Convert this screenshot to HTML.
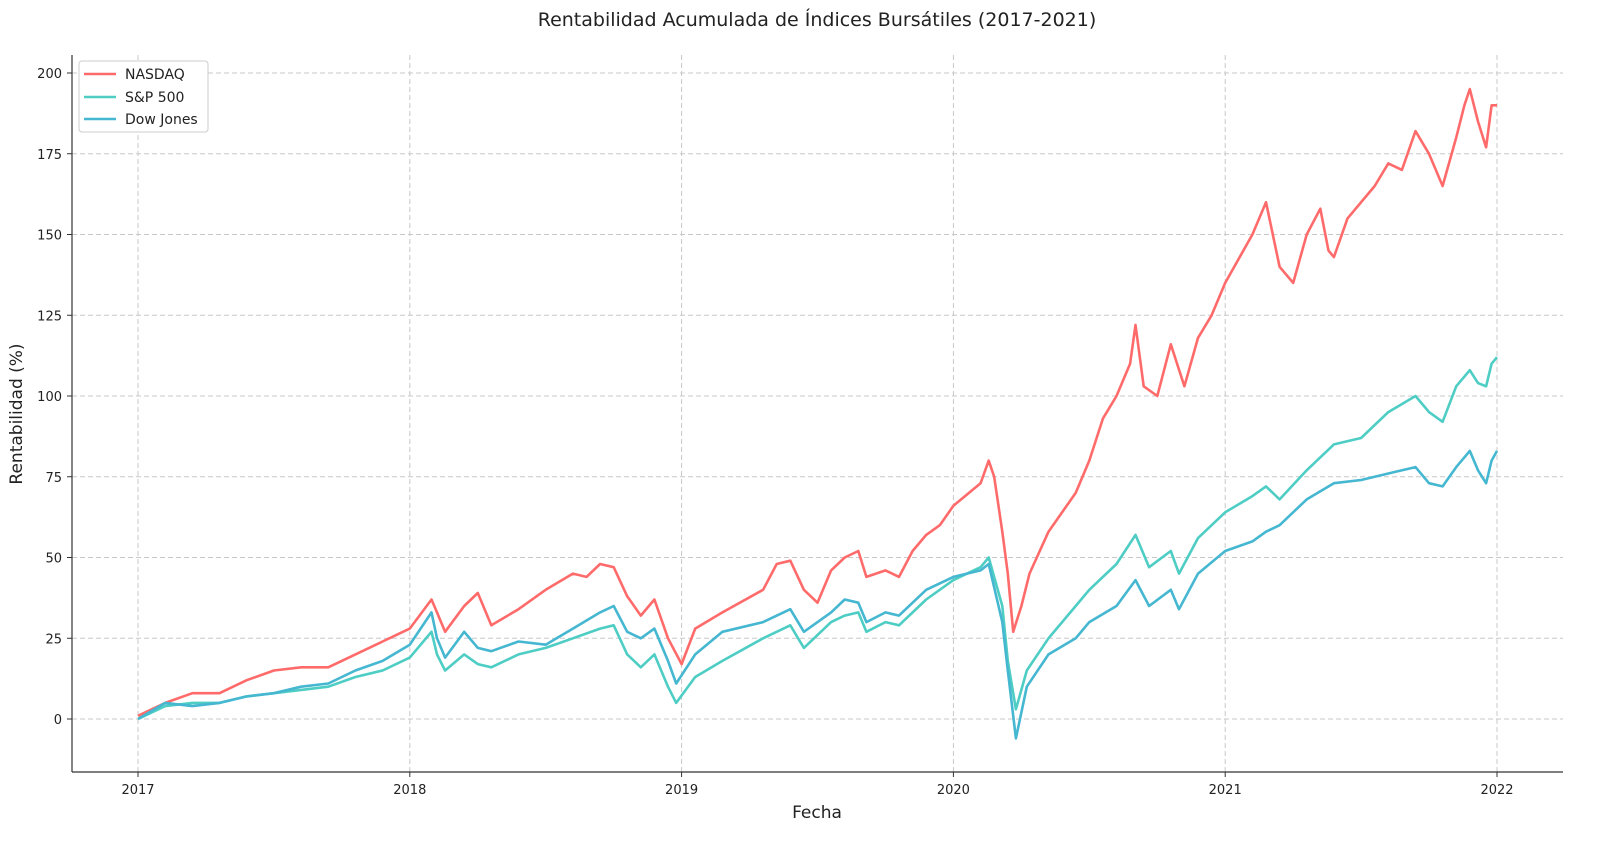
<!DOCTYPE html>
<html><head><meta charset="utf-8"><style>
body{margin:0;background:#fff;font-family:"Liberation Sans","DejaVu Sans",sans-serif;}
svg text{font-family:"DejaVu Sans","Liberation Sans",sans-serif;}
</style></head><body>
<svg id="chart" width="1600" height="844" xmlns="http://www.w3.org/2000/svg">
<text x="817" y="26" text-anchor="middle" font-size="19" fill="#222">Rentabilidad Acumulada de Índices Bursátiles (2017-2021)</text>
<g id="grid"></g>
<g id="axes"></g>
<g id="series"></g>
<text x="817" y="818" text-anchor="middle" font-size="17" fill="#222">Fecha</text>
<text transform="translate(22,414) rotate(-90)" text-anchor="middle" font-size="17" fill="#222">Rentabilidad (%)</text>
<g>
<rect x="79" y="61" width="129" height="71" rx="3" fill="#fff" stroke="#ccc"/>
<g><line x1="84" y1="74" x2="116" y2="74" stroke="#ff6b6b" stroke-width="2.5"/><text x="125" y="79" font-size="14" fill="#222">NASDAQ</text></g>
<g><line x1="84" y1="97" x2="116" y2="97" stroke="#4ecdc4" stroke-width="2.5"/><text x="125" y="102" font-size="14" fill="#222">S&amp;P 500</text></g>
<g><line x1="84" y1="119" x2="116" y2="119" stroke="#45b7d1" stroke-width="2.5"/><text x="125" y="124" font-size="14" fill="#222">Dow Jones</text></g>
</g>
</svg>
<script>
const yTicks=[0,25,50,75,100,125,150,175,200];
const xTicks=[2017,2018,2019,2020,2021,2022];
const nasdaqDates=[2017.0,2017.1,2017.2,2017.3,2017.4,2017.5,2017.6,2017.7,2017.8,2017.9,2018.0,2018.08,2018.1,2018.13,2018.2,2018.25,2018.3,2018.4,2018.5,2018.6,2018.65,2018.7,2018.75,2018.8,2018.85,2018.9,2018.95,2019.0,2019.05,2019.15,2019.3,2019.35,2019.4,2019.45,2019.5,2019.55,2019.6,2019.65,2019.68,2019.75,2019.8,2019.85,2019.9,2019.95,2020.0,2020.1,2020.13,2020.15,2020.18,2020.2,2020.22,2020.25,2020.28,2020.35,2020.45,2020.5,2020.55,2020.6,2020.65,2020.67,2020.7,2020.75,2020.8,2020.85,2020.9,2020.95,2021.0,2021.1,2021.15,2021.2,2021.25,2021.3,2021.35,2021.38,2021.4,2021.45,2021.55,2021.6,2021.65,2021.7,2021.75,2021.8,2021.85,2021.88,2021.9,2021.93,2021.96,2021.98,2022.0];
const nasdaqValues=[1,5,8,8,12,15,16,16,20,24,28,37,33,27,35,39,29,34,40,45,44,48,47,38,32,37,25,17,28,33,40,48,49,40,36,46,50,52,44,46,44,52,57,60,66,73,80,75,58,45,27,35,45,58,70,80,93,100,110,122,103,100,116,103,118,125,135,150,160,140,135,150,158,145,143,155,165,172,170,182,175,165,180,190,195,185,177,190,190];
const otherDates=[2017.0,2017.1,2017.2,2017.3,2017.4,2017.5,2017.6,2017.7,2017.8,2017.9,2018.0,2018.08,2018.1,2018.13,2018.2,2018.25,2018.3,2018.4,2018.5,2018.6,2018.7,2018.75,2018.8,2018.85,2018.9,2018.95,2018.98,2019.05,2019.15,2019.3,2019.4,2019.45,2019.55,2019.6,2019.65,2019.68,2019.75,2019.8,2019.9,2020.0,2020.1,2020.13,2020.18,2020.2,2020.23,2020.27,2020.35,2020.45,2020.5,2020.6,2020.67,2020.72,2020.8,2020.83,2020.9,2021.0,2021.1,2021.15,2021.2,2021.3,2021.4,2021.5,2021.6,2021.7,2021.75,2021.8,2021.85,2021.9,2021.93,2021.96,2021.98,2022.0];
const spValues=[0,4,5,5,7,8,9,10,13,15,19,27,20,15,20,17,16,20,22,25,28,29,20,16,20,10,5,13,18,25,29,22,30,32,33,27,30,29,37,43,47,50,35,18,3,15,25,35,40,48,57,47,52,45,56,64,69,72,68,77,85,87,95,100,95,92,103,108,104,103,110,112];
const dowValues=[0,5,4,5,7,8,10,11,15,18,23,33,25,19,27,22,21,24,23,28,33,35,27,25,28,18,11,20,27,30,34,27,33,37,36,30,33,32,40,44,46,48,30,15,-6,10,20,25,30,35,43,35,40,34,45,52,55,58,60,68,73,74,76,78,73,72,78,83,77,73,80,83];
const X=v=>138+(v-2017)*271.8;
const Y=v=>719-v*3.23;
const NS="http://www.w3.org/2000/svg";
function mk(tag,attrs,parent){const e=document.createElementNS(NS,tag);for(const k in attrs)e.setAttribute(k,attrs[k]);parent.appendChild(e);return e;}
const grid=document.getElementById('grid'),axes=document.getElementById('axes'),ser=document.getElementById('series');
yTicks.forEach(t=>{
 const l=mk('line',{x1:72,x2:1563,y1:Y(t),y2:Y(t),stroke:'#c8c8c8','stroke-dasharray':'5,3'},grid);
 
 
 const tk=mk('line',{x1:67,x2:72,y1:Y(t),y2:Y(t),stroke:'#333'},axes);
 const tx=mk('text',{x:62,y:Y(t)+5,'text-anchor':'end','font-size':13,fill:'#222'},axes);
 tx.textContent=t;
 
 
});
xTicks.forEach(t=>{
 const l=mk('line',{x1:X(t),x2:X(t),y1:55,y2:772,stroke:'#c8c8c8','stroke-dasharray':'5,3'},grid);
 
 
 mk('line',{x1:X(t),x2:X(t),y1:772,y2:777,stroke:'#333'},axes);
 const tx=mk('text',{x:X(t),y:794,'text-anchor':'middle','font-size':13,fill:'#222'},axes);
 tx.textContent=t;
 
 
});
mk('line',{x1:72,x2:72,y1:55,y2:772,stroke:'#333','stroke-width':1.2},axes);
mk('line',{x1:72,x2:1563,y1:772,y2:772,stroke:'#333','stroke-width':1.2},axes);
function draw(dates,vals,color,name){
 const d=dates.map((t,i)=>(i?'L':'M')+X(t).toFixed(1)+','+Y(vals[i]).toFixed(1)).join('');
 const p=mk('path',{d:d,fill:'none',stroke:color,'stroke-width':2.6,'stroke-linejoin':'round'},ser);
 
 
}
draw(nasdaqDates,nasdaqValues,'#ff6b6b','nasdaq-line');
draw(otherDates,spValues,'#4ecdc4','sp500-line');
draw(otherDates,dowValues,'#45b7d1','dowjones-line');
</script>
</body></html>
